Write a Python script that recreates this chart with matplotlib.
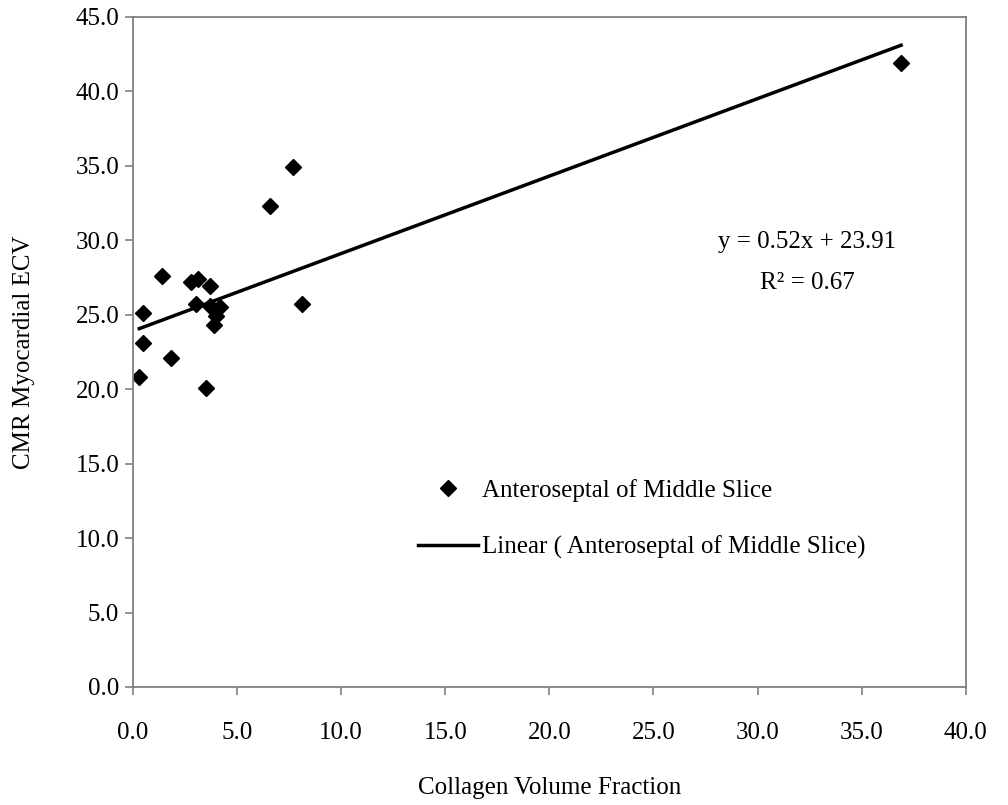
import matplotlib
matplotlib.use("Agg")
import matplotlib.pyplot as plt
import numpy as np

plt.rcParams['font.family'] = ['Liberation Serif', 'DejaVu Serif']

# collagen volume fraction vs CMR myocardial ECV, anteroseptal middle slice
cvf = [0.3, 0.5, 0.5, 1.4, 1.8, 2.8, 3.1, 3.0, 3.5, 3.7, 3.7, 3.9, 4.0, 4.2,
       6.6, 7.7, 8.1, 36.9]
ecv = [20.8, 23.1, 25.1, 27.6, 22.1, 27.2, 27.4, 25.7, 20.1, 26.9, 25.6, 24.3,
       24.9, 25.5, 32.3, 34.9, 25.7, 41.9]
slope, intercept, r2 = 0.52, 23.91, 0.67

xticks = np.arange(0, 40.1, 5)
yticks = np.arange(0, 45.1, 5)

fs = 18

fig = plt.figure(figsize=(10.08, 8.05), dpi=100)
ax = fig.add_axes([0.132, 0.1466, 0.826, 0.8324])

ax.plot(cvf, ecv, linestyle='none', marker='D', ms=8.5, color='black',
        label='Anteroseptal of Middle Slice')
xs = np.array([min(cvf), max(cvf)])
ax.plot(xs, slope * xs + intercept, color='black', lw=2.5,
        label='Linear ( Anteroseptal of Middle Slice)')

ax.set_xlim(0, 40)
ax.set_ylim(0, 45)
ax.set_xticks(xticks)
ax.set_yticks(yticks)
ax.set_xticklabels([f"{v:.1f}" for v in xticks])
ax.set_yticklabels([f"{v:.1f}" for v in yticks])
for s in ax.spines.values():
    s.set_color('#808080')
    s.set_linewidth(1.3)
ax.tick_params(direction='out', length=6, width=1.2, color='#808080',
               labelsize=fs, labelcolor='black')
ax.tick_params(axis='x', pad=19)
ax.tick_params(axis='y', pad=4)

ax.set_xlabel('Collagen Volume Fraction', fontsize=fs, labelpad=24)
ax.set_ylabel('CMR Myocardial ECV', fontsize=fs, labelpad=29)

ax.text(32.4, 29.9, f"y = {slope:.2f}x + {intercept:.2f}", fontsize=fs,
        ha='center', va='center')
ax.text(32.4, 27.1, f"R² = {r2:.2f}", fontsize=fs, ha='center', va='center')

ax.legend(loc='upper left', bbox_to_anchor=(0.342, 0.31), frameon=False,
          fontsize=fs, handlelength=2.4, handletextpad=0.15, labelspacing=1.35,
          borderpad=0, borderaxespad=0)

fig.savefig('out.png', dpi=100)
